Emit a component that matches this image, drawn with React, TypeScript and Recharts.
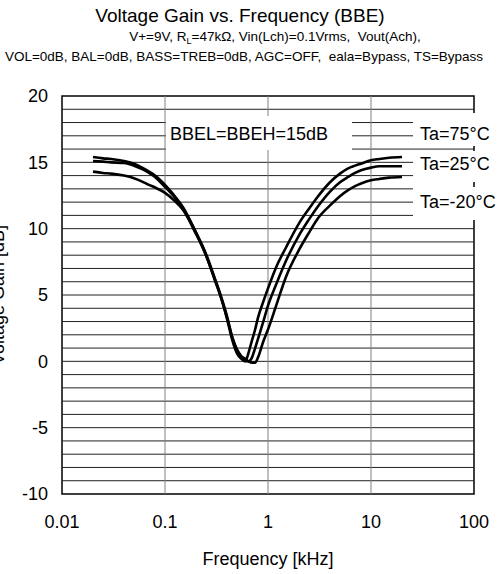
import {
  Line,
  LineChart,
  ReferenceArea,
  ReferenceLine,
  XAxis,
  YAxis,
} from "recharts";

// frequency in kHz, gain in dB
const freqs = [
  0.02, 0.025, 0.03, 0.04, 0.05, 0.06, 0.07, 0.08, 0.1, 0.12, 0.15, 0.2, 0.25,
  0.3, 0.35, 0.4, 0.45, 0.5, 0.55, 0.6, 0.65, 0.7, 0.75, 0.8, 0.9, 1, 1.2, 1.5,
  2, 2.5, 3, 4, 5, 6, 7, 8, 10, 12, 15, 20,
];
const gain75 = [
  15.4, 15.3, 15.25, 15.1, 14.9, 14.6, 14.3, 14.0, 13.3, 12.6, 11.6, 9.7, 8.0,
  6.3, 4.8, 3.2, 1.6, 0.6, 0.2, 0.0, 0.7, 1.6, 2.4, 3.3, 4.5, 5.5, 7.1, 8.6,
  10.4, 11.5, 12.35, 13.5, 14.15, 14.55, 14.75, 14.9, 15.15, 15.25, 15.35, 15.4,
];
const gain25 = [
  15.1, 15.05, 15.0, 14.95, 14.75, 14.5, 14.2, 13.9, 13.15, 12.5, 11.5, 9.7,
  8.1, 6.4, 4.9, 3.4, 1.8, 0.8, 0.3, 0.05, 0.0, 0.3, 1.0, 1.7, 3.0, 4.2, 5.8,
  7.6, 9.5, 10.7, 11.6, 12.8, 13.5, 13.9, 14.2, 14.4, 14.6, 14.7, 14.7, 14.7,
];
const gainM20 = [
  14.3, 14.2, 14.15, 14.0, 13.8, 13.55, 13.3, 13.1, 12.7, 12.2, 11.4, 9.6, 8.0,
  6.3, 4.8, 3.3, 1.8, 0.9, 0.4, 0.2, 0.0, -0.1, -0.1, 0.3, 1.5, 2.4, 4.2, 6.4,
  8.4, 9.7, 10.7, 11.75, 12.45, 12.9, 13.2, 13.4, 13.65, 13.75, 13.85, 13.9,
];

const xTicks = [0.01, 0.1, 1, 10, 100];
const yTicks = [-10, -5, 0, 5, 10, 15, 20];
const dbLines = [
  -9, -8, -7, -6, -5, -4, -3, -2, -1, 0, 1, 2, 3, 4, 5, 6, 7, 8, 9, 10, 11, 12,
  13, 14, 15, 16, 17, 18, 19,
];
const decadeLines = [0.1, 1, 10];

const data = freqs.map((f, i) => ({
  f,
  t75: gain75[i],
  t25: gain25[i],
  tm20: gainM20[i],
}));

const font = '"Liberation Sans", Arial, sans-serif';

export default function App() {
  return (
    <div
      style={{
        position: "absolute",
        left: 0,
        top: 0,
        width: 501,
        height: 574,
        background: "#fff",
        fontFamily: font,
      }}
    >
      <LineChart
        width={501}
        height={574}
        data={data}
        margin={{ top: 96, right: 27, bottom: 0, left: 0 }}
      >
        <XAxis
          dataKey="f"
          type="number"
          scale="log"
          domain={[0.01, 100]}
          ticks={xTicks}
          allowDataOverflow
          height={80}
          tickLine={false}
          axisLine={false}
          tickSize={0}
          tickMargin={21}
          tick={{ fontSize: 18, fill: "#000", fontFamily: font }}
          tickFormatter={(v: number) => String(v)}
          label={{
            value: "Frequency [kHz]",
            position: "insideBottom",
            offset: 9,
            fontSize: 18,
            fill: "#000",
            fontFamily: font,
          }}
        />
        <YAxis
          type="number"
          domain={[-10, 20]}
          ticks={yTicks}
          width={62}
          tickLine={false}
          axisLine={false}
          tickSize={0}
          tickMargin={14}
          tick={{ fontSize: 18, fill: "#000", fontFamily: font }}
        />
        {dbLines.map((v) => (
          <ReferenceLine key={"h" + v} y={v} stroke="#222" strokeWidth={1} />
        ))}
        {decadeLines.map((v) => (
          <ReferenceLine key={"v" + v} x={v} stroke="#808080" strokeWidth={1} />
        ))}
        <ReferenceArea
          x1={0.01}
          x2={100}
          y1={-10}
          y2={20}
          fill="none"
          fillOpacity={0}
          stroke="#000"
          strokeWidth={1.5}
        />
        <Line
          dataKey="t75"
          type="monotone"
          stroke="#000"
          strokeWidth={2.6}
          dot={false}
          isAnimationActive={false}
        />
        <Line
          dataKey="t25"
          type="monotone"
          stroke="#000"
          strokeWidth={2.6}
          dot={false}
          isAnimationActive={false}
        />
        <Line
          dataKey="tm20"
          type="monotone"
          stroke="#000"
          strokeWidth={2.6}
          dot={false}
          isAnimationActive={false}
        />
      </LineChart>

      <svg
        width={501}
        height={574}
        style={{ position: "absolute", left: 0, top: 0, pointerEvents: "none" }}
        fontFamily={font}
        fill="#000"
      >
        <text x={240} y={22} fontSize={19} textAnchor="middle">
          Voltage Gain vs. Frequency (BBE)
        </text>
        <text
          x={275}
          y={41}
          fontSize={13.5}
          textAnchor="middle"
          style={{ whiteSpace: "pre" }}
        >
          <tspan>V+=9V, R</tspan>
          <tspan fontSize={9} dy={3}>
            L
          </tspan>
          <tspan dy={-3}>=47kΩ, Vin(Lch)=0.1Vrms,  Vout(Ach),</tspan>
        </text>
        <text
          x={244}
          y={61}
          fontSize={13.5}
          textAnchor="middle"
          style={{ whiteSpace: "pre" }}
        >
          VOL=0dB, BAL=0dB, BASS=TREB=0dB, AGC=OFF,  eala=Bypass, TS=Bypass
        </text>
        <text
          x={4}
          y={295}
          fontSize={18}
          textAnchor="middle"
          transform="rotate(-90 4 295)"
        >
          Voltage Gain [dB]
        </text>

        <rect x={166} y={116} width={186} height={34} fill="#fff" />
        <text x={170} y={140} fontSize={18}>
          BBEL=BBEH=15dB
        </text>

        <rect x={413} y={113} width={88} height={33} fill="#fff" />
        <text x={420} y={140} fontSize={18}>
          Ta=75°C
        </text>
        <rect x={413} y={151} width={88} height={31} fill="#fff" />
        <text x={420} y={170} fontSize={18}>
          Ta=25°C
        </text>
        <rect x={413} y={187} width={88} height={33} fill="#fff" />
        <text x={420} y={208} fontSize={18}>
          Ta=-20°C
        </text>
      </svg>
    </div>
  );
}
